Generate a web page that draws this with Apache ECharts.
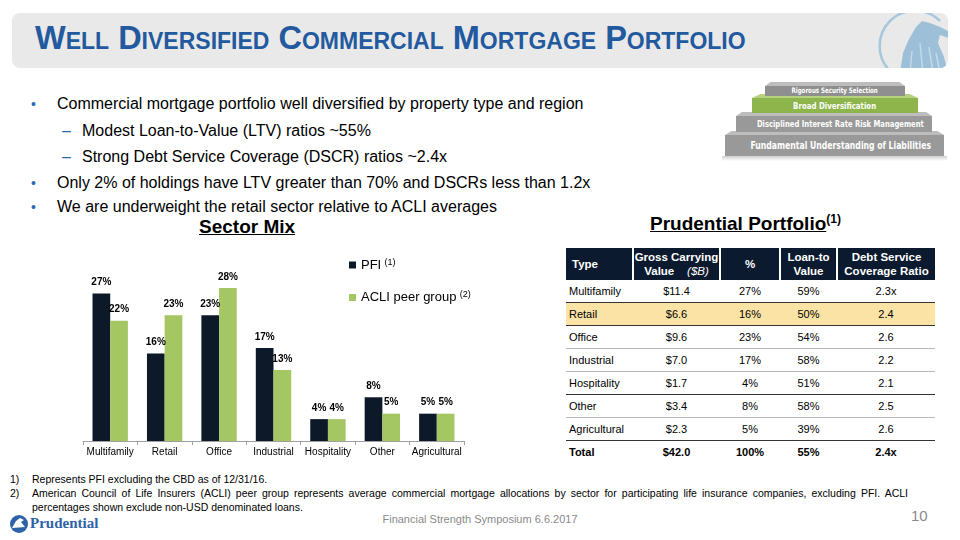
<!DOCTYPE html>
<html>
<head>
<meta charset="utf-8">
<script src="https://cdn.jsdelivr.net/npm/echarts@6/dist/echarts.min.js"></script>
<style>
html,body{margin:0;padding:0;width:960px;height:540px;overflow:hidden;background:#fff;font-family:"Liberation Sans",Arial,sans-serif;color:#000;}
.abs{position:absolute;}
#titlebar{left:12px;top:13px;width:936px;height:55px;background:#e9e9e9;border-radius:8px;overflow:hidden;}
#title{left:23px;top:7px;font-size:32.5px;font-weight:bold;font-variant:small-caps;color:#22599f;white-space:nowrap;}
.b{white-space:nowrap;font-size:16px;}
.dot{color:#2c6cae;font-size:14px;}
.dash{color:#2c6cae;}
.pl{position:absolute;color:#fff;font-family:"DejaVu Sans Condensed","DejaVu Sans",sans-serif;font-weight:bold;text-align:center;white-space:nowrap;overflow:visible;}
.pl span{display:inline-block;transform-origin:center;}
table{border-collapse:collapse;font-size:11px;table-layout:fixed;}
th{background:#0b1a2e;color:#fff;font-weight:bold;height:32px;padding:0;border-left:2px solid #fff;line-height:14px;font-size:11.5px;}
th:first-child{border-left:none;text-align:left;padding-left:6px;}
td{height:22px;padding:0;text-align:center;border-bottom:1px solid #b9b9b9;}
td:first-child{text-align:left;padding-left:3px;}
tr.dk td{border-bottom:1.5px solid #333;}
tr.hl td{background:#fbe3a6;}
tr.tot td{font-weight:bold;border-bottom:none;}
.fn{font-size:10.5px;line-height:14px;}
</style>
</head>
<body>
<div id="titlebar" class="abs">
  <div id="title" class="abs">Well Diversified Commercial Mortgage Portfolio</div>
  <svg class="abs" style="left:864px;top:0px" width="80" height="60" viewBox="0 0 80 60">
    <path d="M14 58 A30 30 0 0 1 64 8" fill="none" stroke="#a8c7dc" stroke-width="2.5"/>
    <path d="M24 60 L27 40 L33 26 L40 14 L46 8 L54 10 L64 14 L76 20 L76 26 L64 22 L62 30 L68 44 L72 60 Z" fill="#9dbfd8"/>
    <path d="M44 30 L47 60 M53 34 L57 60 M36 38 L34 60 M60 40 L64 60" stroke="#c5dae9" stroke-width="1.5"/>
  </svg>
</div>

<div class="abs b" style="left:31px;top:95px;"><span class="dot">•</span></div>
<div class="abs b" style="left:57px;top:95px;">Commercial mortgage portfolio well diversified by property type and region</div>
<div class="abs b" style="left:62px;top:122px;"><span class="dash">–</span></div>
<div class="abs b" style="left:82px;top:122px;">Modest Loan-to-Value (LTV) ratios ~55%</div>
<div class="abs b" style="left:62px;top:148px;"><span class="dash">–</span></div>
<div class="abs b" style="left:82px;top:148px;">Strong Debt Service Coverage (DSCR) ratios ~2.4x</div>
<div class="abs b" style="left:31px;top:174px;"><span class="dot">•</span></div>
<div class="abs b" style="left:57px;top:174px;">Only 2% of holdings have LTV greater than 70% and DSCRs less than 1.2x</div>
<div class="abs b" style="left:31px;top:198px;"><span class="dot">•</span></div>
<div class="abs b" style="left:57px;top:198px;">We are underweight the retail sector relative to ACLI averages</div>

<div class="abs" style="left:199px;top:216px;font-size:19px;font-weight:bold;text-decoration:underline;white-space:nowrap;">Sector Mix</div>
<div class="abs" style="left:650px;top:212px;font-size:19px;font-weight:bold;white-space:nowrap;"><span style="text-decoration:underline;">Prudential Portfolio</span><sup style="font-size:12px;">(1)</sup></div>

<!-- pyramid -->
<div class="abs" style="left:722px;top:156px;width:225px;height:5px;background:linear-gradient(#cfcfcf,#fff);"></div>
<div class="abs" style="left:725px;top:131px;width:219px;height:4px;background:#bdbdbd;clip-path:polygon(3% 0,97% 0,100% 100%,0 100%);"></div>
<div class="pl" style="left:725px;top:135px;width:219px;height:21px;background:#999;font-size:11px;line-height:21px;"><span style="transform:scaleX(0.78)">Fundamental Understanding of Liabilities</span></div>
<div class="abs" style="left:736px;top:112px;width:196px;height:4px;background:#bdbdbd;clip-path:polygon(3% 0,97% 0,100% 100%,0 100%);"></div>
<div class="pl" style="left:736px;top:116px;width:196px;height:16px;background:#999;font-size:9.5px;line-height:16px;"><span style="transform:scaleX(0.8)">Disciplined Interest Rate Risk Management</span></div>
<div class="abs" style="left:752px;top:94px;width:166px;height:4px;background:#b6d27e;clip-path:polygon(5% 0,95% 0,100% 100%,0 100%);"></div>
<div class="pl" style="left:752px;top:98px;width:166px;height:15px;background:#8db54b;font-size:9.5px;line-height:15px;"><span style="transform:scaleX(0.82)">Broad Diversification</span></div>
<div class="abs" style="left:765px;top:82px;width:140px;height:4px;background:#bdbdbd;clip-path:polygon(4% 0,96% 0,100% 100%,0 100%);"></div>
<div class="pl" style="left:765px;top:86px;width:140px;height:10px;background:#8f8f8f;font-size:7.5px;line-height:10px;"><span style="transform:scaleX(0.82)">Rigorous Security Selection</span></div>

<div id="chart" class="abs" style="left:60px;top:240px;width:420px;height:230px;"></div>

<div id="tbl" class="abs" style="left:566px;top:248px;"></div>

<div class="abs fn" style="left:10px;top:472px;">1)</div>
<div class="abs fn" style="left:32px;top:472px;white-space:nowrap;">Represents PFI excluding the CBD as of 12/31/16.</div>
<div class="abs fn" style="left:10px;top:486px;">2)</div>
<div class="abs fn" style="left:32px;top:486px;width:876px;text-align:justify;text-align-last:left;">American Council of Life Insurers (ACLI) peer group represents average commercial mortgage allocations by sector for participating life insurance companies, excluding PFI. ACLI percentages shown exclude non-USD denominated loans.</div>

<svg class="abs" style="left:9px;top:513px" width="20" height="22" viewBox="0 0 20 22">
  <circle cx="10" cy="11" r="9" fill="#2e62a6"/>
  <path d="M3 15 L7 8 L11 5 L15 7 L12 9 L16 14 Z" fill="#fff"/>
</svg>
<div class="abs" style="left:30px;top:515px;font-family:'Liberation Serif','DejaVu Serif',serif;font-weight:bold;font-size:15px;color:#2e62a6;">Prudential</div>
<div class="abs" style="left:0;width:960px;top:513px;text-align:center;font-size:11px;color:#8a8a8a;">Financial Strength Symposium 6.6.2017</div>
<div class="abs" style="left:911px;top:507px;font-size:15px;color:#8a8a8a;">10</div>

<script>
var categories = ['Multifamily','Retail','Office','Industrial','Hospitality','Other','Agricultural'];
var pfiValues = [27,16,23,17,4,8,5];
var acliValues = [22,23,28,13,4,5,5];

var tableHeaders = ['Type','Gross Carrying<br>Value&nbsp;&nbsp;&nbsp;&nbsp;<i style="font-weight:normal">($B)</i>','%','Loan-to<br>Value','Debt Service<br>Coverage Ratio'];
var tableTypes = ['Multifamily','Retail','Office','Industrial','Hospitality','Other','Agricultural','Total'];
var tableGcv = ['$11.4','$6.6','$9.6','$7.0','$1.7','$3.4','$2.3','$42.0'];
var tablePct = ['27%','16%','23%','17%','4%','8%','5%','100%'];
var tableLtv = ['59%','50%','54%','58%','51%','58%','39%','55%'];
var tableDscr = ['2.3x','2.4','2.6','2.2','2.1','2.5','2.6','2.4x'];

// build table
(function(){
  var widths = [67,87,60,57,98];
  var h = '<table style="width:369px"><colgroup>';
  widths.forEach(function(w){ h += '<col style="width:'+w+'px">'; });
  h += '</colgroup><tr>';
  tableHeaders.forEach(function(t){ h += '<th>'+t+'</th>'; });
  h += '</tr>';
  var rowClass = ['dk','hl dk','','','dk','','dk','tot'];
  for (var i=0;i<tableTypes.length;i++){
    h += '<tr class="'+rowClass[i]+'"><td>'+tableTypes[i]+'</td><td>'+tableGcv[i]+'</td><td>'+tablePct[i]+'</td><td>'+tableLtv[i]+'</td><td>'+tableDscr[i]+'</td></tr>';
  }
  h += '</table>';
  document.getElementById('tbl').innerHTML = h;
})();

var chart = echarts.init(document.getElementById('chart'), null, {renderer:'canvas'});
var labelOpt = {show:true, position:'top', distance:6, fontSize:10, fontWeight:'bold', color:'#000', fontFamily:'Liberation Sans, Arial', formatter:'{c}%'};
chart.setOption({
  animation:false,
  grid:{left:23, right:16, top:37, bottom:29},
  legend:{
    orient:'vertical', left:284, top:13, itemGap:19, itemWidth:7, itemHeight:7, icon:'rect',
    data:['PFI','ACLI peer group'],
    formatter:function(n){ return n==='PFI' ? '{a|PFI} {s|(1)}' : '{a|ACLI peer group} {s|(2)}'; },
    textStyle:{fontFamily:'Liberation Sans, Arial', rich:{a:{fontSize:13,color:'#000',fontFamily:'Liberation Sans, Arial'}, s:{fontSize:9,color:'#000',padding:[0,0,5,0],fontFamily:'Liberation Sans, Arial'}}}
  },
  xAxis:{
    type:'category', data:categories,
    axisLine:{lineStyle:{color:'#a0a0a0'}},
    axisTick:{show:true, length:4, lineStyle:{color:'#a0a0a0'}},
    axisLabel:{fontSize:10, color:'#000', margin:6, fontFamily:'Liberation Sans, Arial', interval:0}
  },
  yAxis:{type:'value', min:0, max:30, show:false, splitLine:{show:false}},
  series:[
    {name:'PFI', type:'bar', data:pfiValues, barGap:'0%', barCategoryGap:'35%', itemStyle:{color:'#0d1829'}, label:labelOpt},
    {name:'ACLI peer group', type:'bar', data:acliValues, itemStyle:{color:'#a4c663'}, label:labelOpt}
  ]
});
</script>
</body>
</html>
